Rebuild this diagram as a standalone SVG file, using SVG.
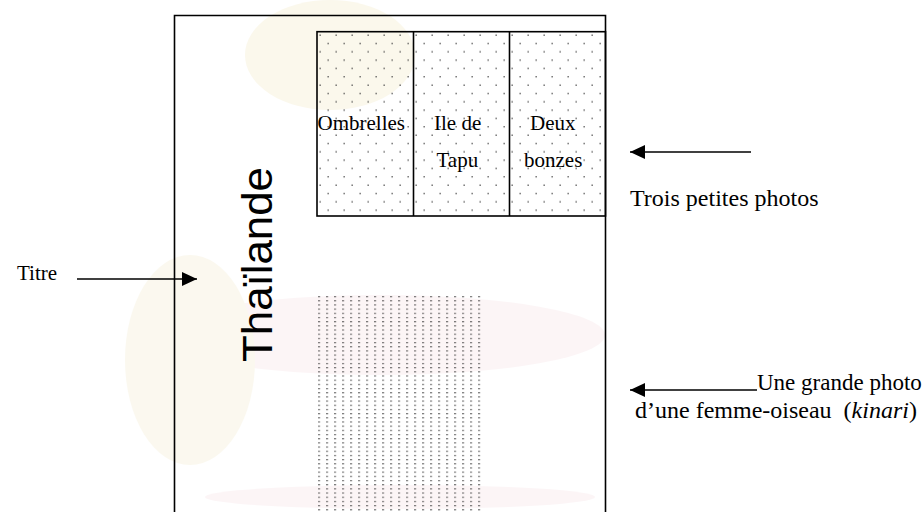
<svg xmlns="http://www.w3.org/2000/svg" width="923" height="512" viewBox="0 0 923 512">
<style>
.frame{fill:none;stroke:#000;stroke-width:1.6}
.conn{stroke:#000;stroke-width:1.6;fill:none}
.serif{font-family:"Liberation Serif","Times New Roman",serif;fill:#000}
.lbl{font-size:24px}
.cell{font-size:21px}
.title{font-family:"Liberation Sans",Arial,sans-serif;font-size:43px;fill:#000}
</style>
<defs>
<marker id="ah" markerUnits="userSpaceOnUse" viewBox="0 0 15 14" refX="15" refY="7" markerWidth="15" markerHeight="14" orient="auto">
<path d="M0,0 L15,7 L0,14 z" fill="#000"/>
</marker>
<pattern id="dotsSmall" patternUnits="userSpaceOnUse" x="317" y="31" width="16" height="16.67">
<rect x="2.5" y="3.5" width="1.3" height="1.3" fill="#444"/>
<rect x="10.5" y="11.8" width="1.3" height="1.3" fill="#444"/>
</pattern>
<pattern id="dotsBig" patternUnits="userSpaceOnUse" x="318.4" y="296" width="8" height="4.18">
<rect x="0" y="0" width="1.3" height="1.2" fill="#222"/>
</pattern>
</defs>

<g id="watermark" opacity="0.3">
<ellipse cx="330" cy="55" rx="85" ry="55" fill="#f3e9c2"/>
<ellipse cx="380" cy="335" rx="225" ry="40" fill="#f7dfe4"/>
<ellipse cx="190" cy="360" rx="65" ry="105" fill="#f3ebcc"/>
<ellipse cx="400" cy="497" rx="195" ry="12" fill="#f7dfe4"/>
</g>

<g id="page">
<path class="frame" d="M174.5,512 V15.5 H605.5 V512"/>
</g>

<g id="small-photos">
<rect x="317" y="31.7" width="288.5" height="184.3" fill="url(#dotsSmall)"/>
<rect x="317" y="31.7" width="288.5" height="184.3" class="frame"/>
<line x1="413.5" y1="31.7" x2="413.5" y2="216" class="frame"/>
<line x1="509.5" y1="31.7" x2="509.5" y2="216" class="frame"/>
</g>

<g id="photo-ombrelles">
<text class="serif cell" x="317.5" y="129.5">Ombrelles</text>
</g>
<g id="photo-ile">
<text class="serif cell" x="434" y="130">Ile de</text>
<text class="serif cell" x="436.5" y="166.5">Tapu</text>
</g>
<g id="photo-bonzes">
<text class="serif cell" x="530" y="130">Deux</text>
<text class="serif cell" x="524" y="166.5">bonzes</text>
</g>

<g id="big-photo">
<rect x="318" y="296" width="163" height="216" fill="url(#dotsBig)"/>
</g>

<g id="title">
<text class="title" transform="translate(271.5,362) rotate(-90)" textLength="195" lengthAdjust="spacingAndGlyphs">Thaïlande</text>
</g>

<g id="label-titre">
<text class="serif" font-size="21" x="17" y="280">Titre</text>
</g>
<g id="label-trois">
<text class="serif lbl" x="630" y="206">Trois petites photos</text>
</g>
<g id="label-grande">
<text class="serif" font-size="23" x="757" y="390">Une grande photo</text>
<text class="serif lbl" x="635" y="418" xml:space="preserve">d’une femme-oiseau  (<tspan font-style="italic">kinari</tspan>)</text>
</g>

<g id="connectors">
<line class="conn" x1="77" y1="279" x2="197" y2="279" marker-end="url(#ah)"/>
<line class="conn" x1="751" y1="152" x2="630" y2="152" marker-end="url(#ah)"/>
<line class="conn" x1="757" y1="390" x2="630" y2="390" marker-end="url(#ah)"/>
</g>
</svg>
